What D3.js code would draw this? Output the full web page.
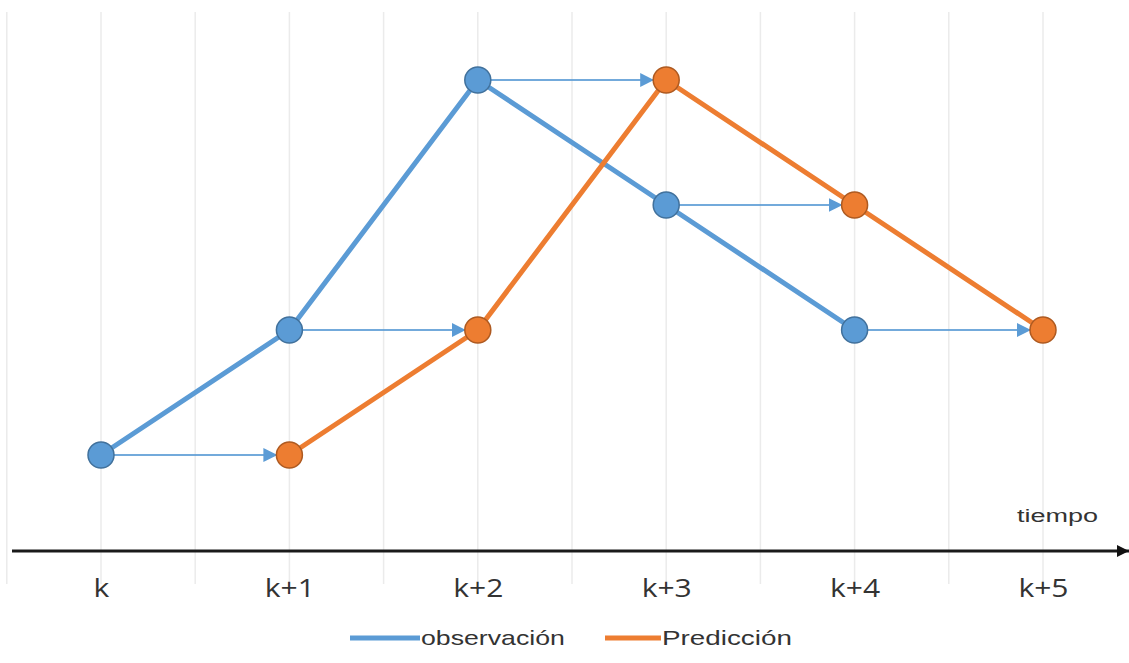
<!DOCTYPE html>
<html>
<head>
<meta charset="utf-8">
<script src="https://cdn.jsdelivr.net/npm/d3@7"></script>
<style>
  html, body { margin: 0; padding: 0; background: #fff; }
  svg { display: block; }
</style>
</head>
<body>
<svg id="chart" width="1129" height="663"></svg>
<script>
// Time steps and the level of each series at those steps
const categories = ["k", "k+1", "k+2", "k+3", "k+4", "k+5"];
const observacion = [
  { t: "k", v: 1 }, { t: "k+1", v: 2 }, { t: "k+2", v: 4 }, { t: "k+3", v: 3 }, { t: "k+4", v: 2 }
];
const prediccion = [
  { t: "k+1", v: 1 }, { t: "k+2", v: 2 }, { t: "k+3", v: 4 }, { t: "k+4", v: 3 }, { t: "k+5", v: 2 }
];
const seriesNames = ["observación", "Predicción"];
const axisLabel = "tiempo";

const blue = "#5b9bd5", blueDark = "#41719c";
const orange = "#ed7d31", orangeDark = "#ae5a21";

const svg = d3.select("#chart");

const x = d3.scalePoint().domain(categories).range([101, 1043]);
const y = d3.scaleLinear().domain([1, 4]).range([455, 80]);
const step = x.step();
const axisY = 551;

// Stretch a text element horizontally so it spans the given width from its left edge
function widen(sel, width) {
  sel.each(function () {
    const t = d3.select(this);
    const x0 = +t.attr("x") || 0;
    const w = this.getComputedTextLength();
    const s = width / w;
    t.attr("transform", `translate(${x0},0) scale(${s},1) translate(${-x0},0)`);
  });
}

// Faint vertical gridlines at each step and halfway between steps
const gridX = d3.range(-0.5, categories.length, 0.5).map(i => x(categories[0]) + i * step)
  .filter(gx => gx > 0 && gx < 1125);
svg.append("g").selectAll("line").data(gridX).join("line")
  .attr("x1", d => d).attr("x2", d => d)
  .attr("y1", 12).attr("y2", 584)
  .attr("stroke", "#ebebeb").attr("stroke-width", 1.5);

// Arrow marker definitions
const defs = svg.append("defs");
defs.append("marker")
  .attr("id", "tri").attr("viewBox", "0 0 10 10")
  .attr("refX", 10).attr("refY", 5)
  .attr("markerWidth", 7).attr("markerHeight", 7)
  .attr("markerUnits", "strokeWidth")
  .attr("orient", "auto")
  .append("path").attr("d", "M0,0 L10,5 L0,10 Z").attr("fill", blue);
defs.append("marker")
  .attr("id", "axisArrow").attr("viewBox", "0 0 10 10")
  .attr("refX", 10).attr("refY", 5)
  .attr("markerWidth", 4).attr("markerHeight", 4)
  .attr("markerUnits", "strokeWidth")
  .attr("orient", "auto")
  .append("path").attr("d", "M0,0 L10,5 L0,10 Z").attr("fill", "#111");

// Horizontal time axis with arrow
svg.append("line")
  .attr("x1", 12).attr("x2", 1129)
  .attr("y1", axisY).attr("y2", axisY)
  .attr("stroke", "#1a1a1a").attr("stroke-width", 3)
  .attr("marker-end", "url(#axisArrow)");

// Tick labels via a d3 axis without domain/tick lines
const xAxis = svg.append("g")
  .attr("transform", `translate(0,${axisY})`)
  .call(d3.axisBottom(x).tickSize(0).tickPadding(28));
xAxis.select(".domain").remove();
xAxis.selectAll("text")
  .attr("font-family", "'Open Sans', 'Liberation Sans', sans-serif")
  .attr("font-size", 25)
  .attr("transform", "scale(1.2,1)")
  .attr("fill", "#333");

svg.append("text")
  .attr("x", 1017).attr("y", 522)
  .attr("font-family", "'Liberation Sans', Arial, sans-serif")
  .attr("font-size", 18)
  .attr("fill", "#333")
  .text(axisLabel)
  .call(widen, 81);

// Shift arrows: each observation moved one step later
const r = 13;
const arrows = observacion.map((d, i) => ({ from: d, to: prediccion[i] }));
svg.append("g").selectAll("line").data(arrows).join("line")
  .attr("x1", d => x(d.from.t) + r)
  .attr("y1", d => y(d.from.v))
  .attr("x2", d => x(d.to.t) - r + 1)
  .attr("y2", d => y(d.to.v))
  .attr("stroke", blue).attr("stroke-opacity", 0.85)
  .attr("stroke-width", 2)
  .attr("marker-end", "url(#tri)");

const line = d3.line().x(d => x(d.t)).y(d => y(d.v));

function drawSeries(data, color, dark) {
  svg.append("path").datum(data)
    .attr("d", line)
    .attr("fill", "none")
    .attr("stroke", color)
    .attr("stroke-width", 5)
    .attr("stroke-linejoin", "round");
  svg.append("g").selectAll("circle").data(data).join("circle")
    .attr("cx", d => x(d.t)).attr("cy", d => y(d.v))
    .attr("r", r)
    .attr("fill", color)
    .attr("stroke", dark).attr("stroke-width", 1.5);
}
drawSeries(observacion, blue, blueDark);
drawSeries(prediccion, orange, orangeDark);

// Legend
const legend = [
  { name: seriesNames[0], color: blue, x: 350, w: 70, len: 144 },
  { name: seriesNames[1], color: orange, x: 605, w: 56, len: 130 }
];
const lg = svg.append("g").selectAll("g").data(legend).join("g")
  .attr("transform", d => `translate(${d.x},638)`);
lg.append("line")
  .attr("x1", 0).attr("x2", d => d.w).attr("y1", 0).attr("y2", 0)
  .attr("stroke", d => d.color).attr("stroke-width", 5);
lg.append("text")
  .attr("x", d => d.w + 1).attr("y", 7)
  .attr("font-family", "'Liberation Sans', Arial, sans-serif")
  .attr("font-size", 20)
  .attr("fill", "#333")
  .text(d => d.name)
  .each(function (d) { d3.select(this).call(widen, d.len); });
</script>
</body>
</html>
